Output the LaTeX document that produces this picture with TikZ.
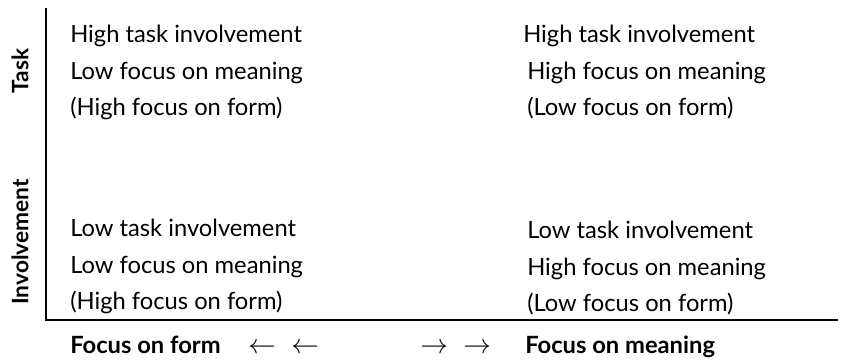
\documentclass[tikz,border=0pt]{standalone}
\usepackage{fontspec}
\setmainfont{Lato}
\usetikzlibrary{positioning}

\begin{document}
\begin{tikzpicture}[
        x=0.75pt, y=-0.75pt,
        node distance=10.3pt,
        every node/.style={inner sep=0pt,font=\fontsize{17.8}{20}\selectfont},
        cell/.style={text height=12.9pt,text depth=3.8pt,anchor=north west},
        axislabel/.style={font=\fontsize{17.8}{20}\selectfont\bfseries},
        sidelabel/.style={font=\fontsize{17}{20}\selectfont\bfseries,rotate=90},
        arrowglyph/.style={anchor=base west,font=\fontsize{20}{24}\selectfont}
    ]
    \useasboundingbox (0,0) rectangle (843,361);

    % axes
    \coordinate (top)    at (46,8);
    \coordinate (origin) at (46,320);
    \coordinate (right)  at (838,320);
    \draw [line width=1.5pt] (top) -- (origin) -- (right);

    \node (task) [sidelabel] at (20,71)  {Task};
    \node (inv)  [sidelabel] at (20,242) {Involvement};

    % upper left
    \node (a1) [cell] at (70,25)                                   {High task involvement};
    \node (a2) [cell,below=of a1.south west,anchor=north west]     {Low focus on meaning};
    \node (a3) [cell,below=of a2.south west,anchor=north west]     {(High focus on form)};

    % upper right
    \node (b1) [cell] at (523,25)                                  {High task involvement};
    \node (b2) [cell,below=of b1.south west,anchor=north west,xshift=3pt] {High focus on meaning};
    \node (b3) [cell,below=of b2.south west,anchor=north west]     {(Low focus on form)};

    % lower left
    \node (c1) [cell] at (70,219)                                  {Low task involvement};
    \node (c2) [cell,below=of c1.south west,anchor=north west]     {Low focus on meaning};
    \node (c3) [cell,below=of c2.south west,anchor=north west]     {(High focus on form)};

    % lower right
    \node (d1) [cell] at (527,221)                                 {Low task involvement};
    \node (d2) [cell,below=of d1.south west,anchor=north west]     {High focus on meaning};
    \node (d3) [cell,below=of d2.south west,anchor=north west]     {(Low focus on form)};

    % horizontal axis
    \node (form)    [axislabel,anchor=base west] at (70,353)  {Focus on form};
    \node (left1)   [arrowglyph] at (248,353) {$\leftarrow$};
    \node (left2)   [arrowglyph] at (291,353) {$\leftarrow$};
    \node (right1)  [arrowglyph] at (420,353) {$\rightarrow$};
    \node (right2)  [arrowglyph] at (463,353) {$\rightarrow$};
    \node (meaning) [axislabel,anchor=base west] at (525,353) {Focus on meaning};
\end{tikzpicture}
\end{document}
